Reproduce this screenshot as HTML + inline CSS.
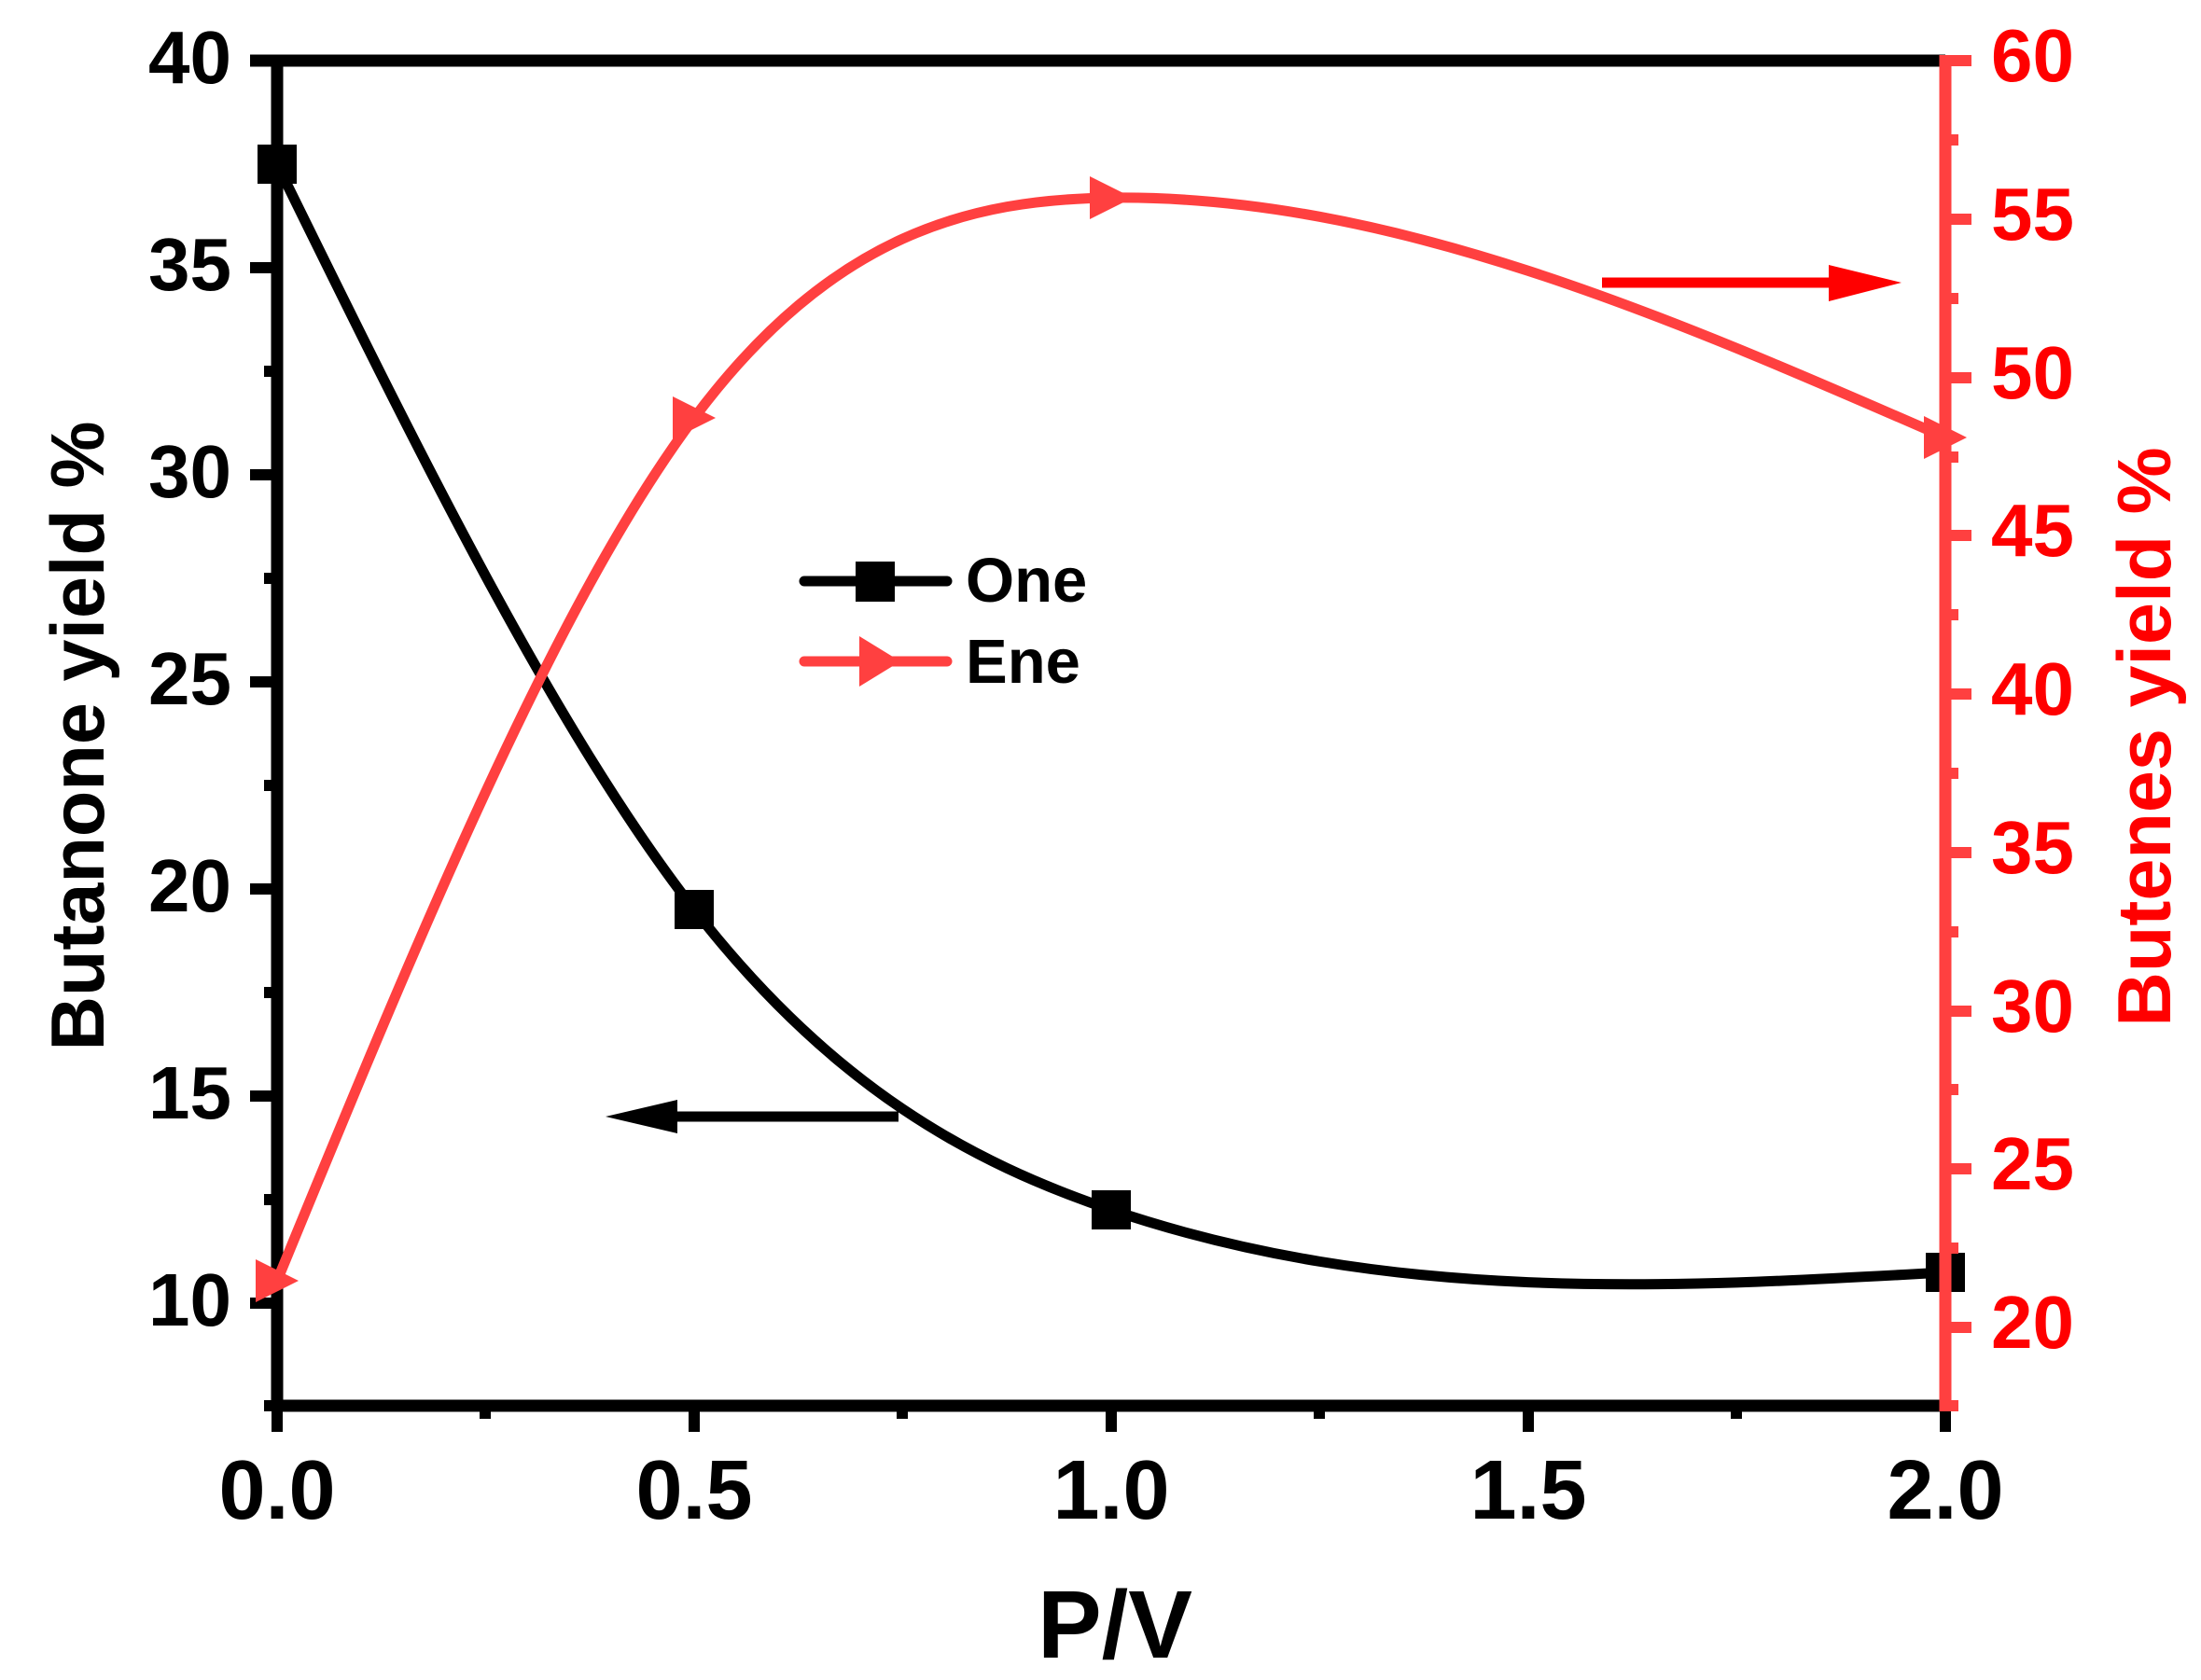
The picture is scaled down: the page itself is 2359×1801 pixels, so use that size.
<!DOCTYPE html>
<html><head><meta charset="utf-8"><style>
html,body{margin:0;padding:0;background:#fff}
svg{display:block}
text{font-family:"Liberation Sans",Arial,sans-serif;font-weight:bold}
</style></head><body>
<svg width="2359" height="1801" viewBox="0 0 2359 1801" xmlns="http://www.w3.org/2000/svg">
<rect width="2359" height="1801" fill="#fff"/>
<g stroke="#000" stroke-width="12">
<line x1="268" y1="65" x2="297" y2="65"/>
<line x1="268" y1="287" x2="297" y2="287"/>
<line x1="268" y1="509" x2="297" y2="509"/>
<line x1="268" y1="731" x2="297" y2="731"/>
<line x1="268" y1="953" x2="297" y2="953"/>
<line x1="268" y1="1175" x2="297" y2="1175"/>
<line x1="268" y1="1397" x2="297" y2="1397"/>
<line x1="283" y1="176" x2="297" y2="176"/>
<line x1="283" y1="398" x2="297" y2="398"/>
<line x1="283" y1="620" x2="297" y2="620"/>
<line x1="283" y1="842" x2="297" y2="842"/>
<line x1="283" y1="1064" x2="297" y2="1064"/>
<line x1="283" y1="1286" x2="297" y2="1286"/>
<line x1="283" y1="1507" x2="297" y2="1507"/>
<line x1="297" y1="1507" x2="297" y2="1535"/>
<line x1="744" y1="1507" x2="744" y2="1535"/>
<line x1="1191" y1="1507" x2="1191" y2="1535"/>
<line x1="1638" y1="1507" x2="1638" y2="1535"/>
<line x1="2085" y1="1507" x2="2085" y2="1535"/>
<line x1="520" y1="1507" x2="520" y2="1521"/>
<line x1="967" y1="1507" x2="967" y2="1521"/>
<line x1="1414" y1="1507" x2="1414" y2="1521"/>
<line x1="1861" y1="1507" x2="1861" y2="1521"/>
</g>
<line x1="268" y1="65" x2="2085" y2="65" stroke="#000" stroke-width="13"/>
<line x1="297" y1="59" x2="297" y2="1513" stroke="#000" stroke-width="13"/>
<line x1="297" y1="1507" x2="2085" y2="1507" stroke="#000" stroke-width="13"/>
<g font-size="80" text-anchor="end" fill="#000">
<text x="248" y="89">40</text>
<text x="248" y="311">35</text>
<text x="248" y="533">30</text>
<text x="248" y="755">25</text>
<text x="248" y="977">20</text>
<text x="248" y="1199">15</text>
<text x="248" y="1421">10</text>
</g>
<g font-size="80" text-anchor="start" fill="#ff0000">
<text x="2134" y="87">60</text>
<text x="2134" y="257">55</text>
<text x="2134" y="427">50</text>
<text x="2134" y="596">45</text>
<text x="2134" y="766">40</text>
<text x="2134" y="936">35</text>
<text x="2134" y="1106">30</text>
<text x="2134" y="1275">25</text>
<text x="2134" y="1445">20</text>
</g>
<g font-size="90" text-anchor="middle" fill="#000">
<text x="297" y="1628">0.0</text>
<text x="744" y="1628">0.5</text>
<text x="1191" y="1628">1.0</text>
<text x="1638" y="1628">1.5</text>
<text x="2085" y="1628">2.0</text>
</g>
<text x="1195" y="1777" font-size="103" text-anchor="middle" fill="#000">P/V</text>
<text transform="translate(111,789) rotate(-90)" font-size="81" text-anchor="middle" fill="#000">Butanone yield %</text>
<text transform="translate(2326,790) rotate(-90)" font-size="81" text-anchor="middle" fill="#ff0000">Butenes yield %</text>
<path d="M297,176 C446,479.6 595,783.3 744,975 C893,1166.7 1042,1246.6 1191,1297 C1489,1397.8 1787,1380.9 2085,1364" fill="none" stroke="#000" stroke-width="11"/>
<path d="M297,1373 C446,1010 595,647.1 744,448 C893,248.9 1042,213.8 1191,212 C1489,208.5 1787,338.8 2085,469" fill="none" stroke="#ff4040" stroke-width="11"/>
<g fill="#000">
<rect x="276" y="155" width="42" height="42"/>
<rect x="723" y="954" width="42" height="42"/>
<rect x="1170" y="1276" width="42" height="42"/>
<rect x="2064" y="1343" width="42" height="42"/>
</g>
<g fill="#ff4040">
<polygon points="274,1350 274,1396 320,1373"/>
<polygon points="721,425 721,471 767,448"/>
<polygon points="1168,189 1168,235 1214,212"/>
<polygon points="2062,446 2062,492 2108,469"/>
</g>
<g stroke="#ff4040" stroke-width="12">
<line x1="2085" y1="59" x2="2085" y2="1513" stroke-width="13"/>
<line x1="2085" y1="65" x2="2113" y2="65"/>
<line x1="2085" y1="235" x2="2113" y2="235"/>
<line x1="2085" y1="405" x2="2113" y2="405"/>
<line x1="2085" y1="574" x2="2113" y2="574"/>
<line x1="2085" y1="744" x2="2113" y2="744"/>
<line x1="2085" y1="914" x2="2113" y2="914"/>
<line x1="2085" y1="1084" x2="2113" y2="1084"/>
<line x1="2085" y1="1253" x2="2113" y2="1253"/>
<line x1="2085" y1="1423" x2="2113" y2="1423"/>
<line x1="2085" y1="150" x2="2099" y2="150"/>
<line x1="2085" y1="320" x2="2099" y2="320"/>
<line x1="2085" y1="490" x2="2099" y2="490"/>
<line x1="2085" y1="659" x2="2099" y2="659"/>
<line x1="2085" y1="829" x2="2099" y2="829"/>
<line x1="2085" y1="999" x2="2099" y2="999"/>
<line x1="2085" y1="1168" x2="2099" y2="1168"/>
<line x1="2085" y1="1338" x2="2099" y2="1338"/>
<line x1="2085" y1="1507" x2="2099" y2="1507"/>
</g>
<line x1="720" y1="1197" x2="963" y2="1197" stroke="#000" stroke-width="11"/>
<polygon points="649,1197 726,1179 726,1215" fill="#000"/>
<line x1="1717" y1="303" x2="1965" y2="303" stroke="#ff0000" stroke-width="11"/>
<polygon points="2038,303 1960,284 1960,323" fill="#ff0000"/>
<line x1="862" y1="623" x2="1015" y2="623" stroke="#000" stroke-width="11" stroke-linecap="round"/>
<rect x="917" y="602" width="42" height="43" fill="#000"/>
<text x="1035" y="645" font-size="67" fill="#000">One</text>
<line x1="862" y1="709" x2="1015" y2="709" stroke="#ff4040" stroke-width="11" stroke-linecap="round"/>
<polygon points="921,682 921,736 965,709" fill="#ff4040"/>
<text x="1035" y="732" font-size="67" fill="#000">Ene</text>
</svg>
</body></html>
